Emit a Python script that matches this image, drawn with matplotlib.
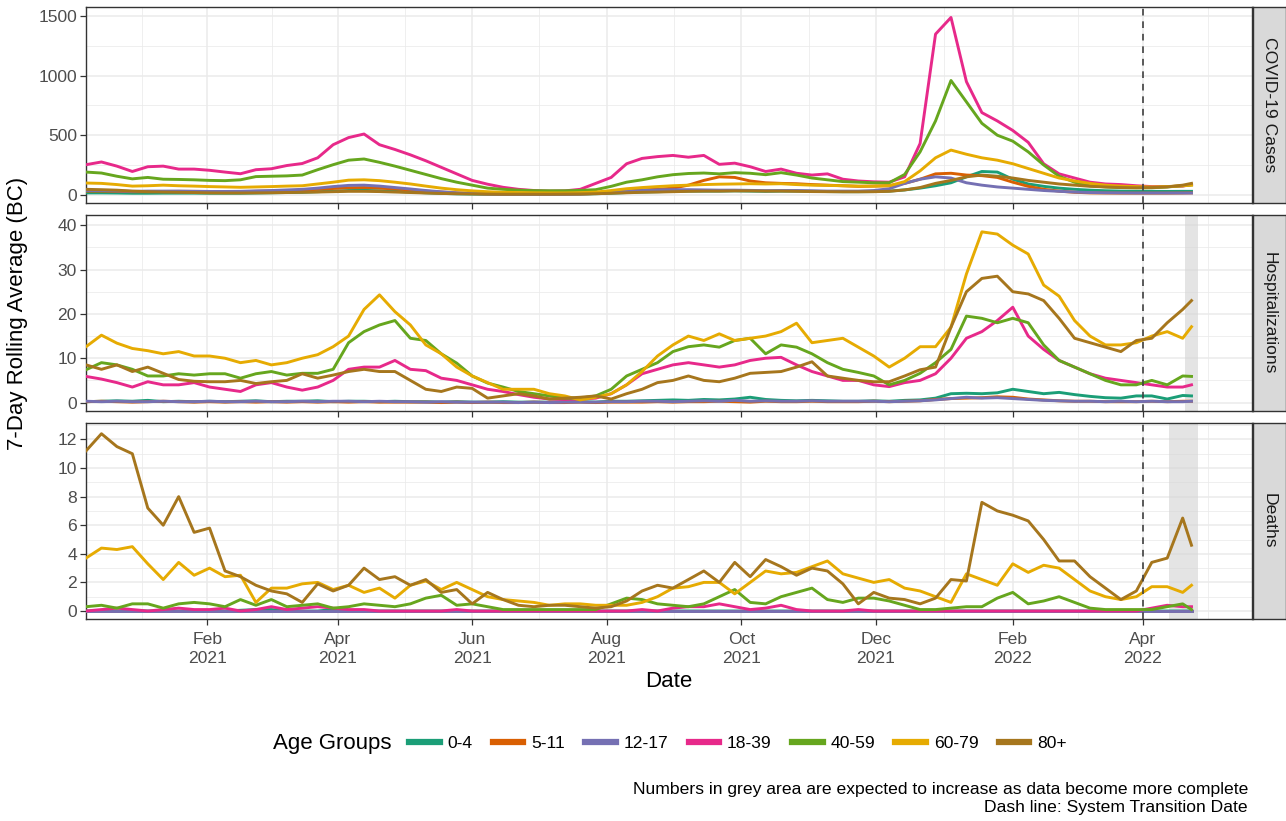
import pandas as pd
import matplotlib
matplotlib.use("Agg")
import matplotlib.pyplot as plt
import matplotlib.dates as mdates
from matplotlib.lines import Line2D

plt.rcParams["font.family"] = ["Liberation Sans", "DejaVu Sans"]

# weekly readings from Dec 8 2020, plus the last reported day
dates = list(pd.date_range("2020-12-08", periods=72, freq="7D")) + [pd.Timestamp("2022-04-23")]

age_groups = ["0-4", "5-11", "12-17", "18-39", "40-59", "60-79", "80+"]
colors = ["#1B9E77", "#D95F02", "#7570B3", "#E7298A", "#66A61E", "#E6AB02", "#A6761D"]
facets = ["COVID-19 Cases", "Hospitalizations", "Deaths"]

# ---- COVID-19 cases ----
cases_0_4 = [15, 15, 14, 12, 12, 13, 13, 13, 12, 12,
             12, 14, 16, 18, 20, 25, 30, 35, 36, 33,
             28, 22, 16, 11, 7, 5, 4, 3, 3, 3,
             3, 4, 5, 8, 12, 18, 22, 25, 28, 30,
             30, 30, 32, 30, 28, 30, 30, 28, 26, 25,
             25, 26, 30, 40, 55, 75, 100, 150, 195, 190,
             130, 90, 70, 55, 45, 38, 33, 30, 28, 28,
             27, 28, 28]
cases_5_11 = [30, 30, 28, 25, 25, 27, 28, 28, 27, 26,
              25, 28, 30, 33, 38, 45, 52, 58, 60, 55,
              48, 40, 30, 22, 15, 10, 7, 5, 4, 4,
              4, 5, 6, 10, 18, 30, 40, 45, 55, 80,
              120, 150, 145, 115, 100, 95, 92, 85, 80, 75,
              70, 72, 76, 95, 130, 175, 180, 165, 160, 145,
              105, 70, 45, 30, 20, 15, 14, 13, 13, 13,
              13, 14, 15]
cases_12_17 = [35, 35, 32, 28, 30, 30, 30, 28, 27, 27,
               28, 32, 35, 40, 45, 55, 68, 78, 80, 72,
               60, 48, 35, 24, 15, 10, 6, 4, 3, 3,
               3, 4, 6, 10, 18, 28, 35, 40, 42, 42,
               40, 38, 38, 36, 34, 35, 35, 33, 30, 30,
               30, 35, 50, 95, 130, 150, 140, 100, 80, 65,
               55, 45, 35, 28, 22, 18, 16, 15, 14, 14,
               14, 14, 14]
cases_18_39 = [252, 275, 240, 195, 235, 240, 215, 215, 205, 190,
               176, 210, 218, 245, 262, 310, 420, 480, 510, 420,
               380, 335, 285, 230, 175, 120, 88, 62, 45, 35,
               30, 32, 45, 95, 145, 260, 305, 320, 330, 315,
               330, 255, 265, 235, 195, 215, 180, 165, 175, 130,
               115, 108, 105, 150, 430, 1350, 1490, 950, 690, 620,
               540, 440, 260, 175, 140, 105, 90, 85, 75, 68,
               68, 72, 85]
cases_40_59 = [190, 182, 155, 133, 145, 130, 128, 125, 120, 118,
               125, 152, 155, 158, 165, 210, 252, 290, 300, 272,
               240, 205, 170, 135, 105, 80, 55, 45, 38, 34,
               33, 33, 36, 42, 70, 105, 125, 150, 168, 178,
               182, 175, 185, 180, 168, 185, 165, 140, 125, 110,
               105, 100, 100, 170, 360, 620, 960, 780, 600, 500,
               450, 360, 250, 155, 105, 75, 65, 60, 58, 58,
               65, 75, 82]
cases_60_79 = [98, 95, 85, 72, 75, 80, 75, 72, 68, 65,
               62, 65, 68, 72, 75, 90, 105, 122, 125, 118,
               105, 90, 72, 55, 42, 32, 25, 20, 18, 16,
               15, 15, 17, 22, 35, 50, 60, 68, 75, 80,
               85, 88, 90, 92, 90, 92, 85, 80, 78, 75,
               72, 72, 75, 110, 200, 310, 375, 340, 310, 290,
               260, 220, 180, 140, 115, 95, 80, 72, 68, 65,
               68, 75, 80]
cases_80p = [45, 42, 38, 30, 25, 22, 20, 18, 15, 14,
             14, 15, 16, 18, 20, 22, 25, 28, 28, 26,
             22, 18, 14, 10, 8, 6, 5, 4, 4, 4,
             4, 5, 6, 8, 12, 16, 20, 22, 25, 28,
             30, 30, 32, 32, 30, 30, 28, 26, 25, 24,
             24, 25, 28, 40, 60, 95, 120, 150, 165, 155,
             140, 120, 105, 90, 80, 70, 65, 60, 58, 60,
             65, 80, 95]

# ---- Hospitalizations ----
hosp_0_4 = [0.2, 0.3, 0.4, 0.3, 0.5, 0.2, 0.3, 0.2, 0.3, 0.2,
            0.3, 0.4, 0.2, 0.3, 0.3, 0.4, 0.2, 0.3, 0.3, 0.2,
            0.3, 0.2, 0.2, 0.1, 0.2, 0.1, 0.1, 0.2, 0.1, 0.1,
            0.1, 0.2, 0.2, 0.1, 0.3, 0.3, 0.4, 0.5, 0.6, 0.5,
            0.7, 0.6, 0.8, 1.2, 0.7, 0.5, 0.4, 0.5, 0.4, 0.3,
            0.3, 0.4, 0.3, 0.5, 0.6, 1.0, 2.0, 2.1, 2.0, 2.2,
            3.0, 2.5, 2.0, 2.3, 1.8, 1.4, 1.1, 1.0, 1.5, 1.5,
            0.8, 1.6, 1.5]
hosp_5_11 = [0.2, 0.3, 0.2, 0.1, 0.2, 0.3, 0.2, 0.1, 0.2, 0.1,
             0.2, 0.1, 0.2, 0.1, 0.2, 0.1, 0.2, 0.1, 0.2, 0.1,
             0.1, 0.1, 0.1, 0.0, 0.1, 0.0, 0.1, 0.0, 0.0, 0.1,
             0.0, 0.0, 0.1, 0.0, 0.1, 0.1, 0.1, 0.2, 0.1, 0.2,
             0.2, 0.3, 0.2, 0.1, 0.3, 0.2, 0.2, 0.3, 0.2, 0.2,
             0.2, 0.3, 0.2, 0.3, 0.4, 0.7, 0.9, 1.0, 1.1, 1.3,
             1.2, 0.8, 0.6, 0.4, 0.3, 0.3, 0.2, 0.2, 0.2, 0.3,
             0.2, 0.3, 0.3]
hosp_12_17 = [0.3, 0.2, 0.3, 0.2, 0.2, 0.3, 0.2, 0.2, 0.3, 0.2,
              0.2, 0.3, 0.2, 0.2, 0.3, 0.2, 0.3, 0.3, 0.2, 0.3,
              0.2, 0.2, 0.1, 0.2, 0.1, 0.1, 0.1, 0.1, 0.0, 0.1,
              0.0, 0.1, 0.1, 0.1, 0.2, 0.2, 0.3, 0.3, 0.2, 0.3,
              0.4, 0.3, 0.5, 0.3, 0.4, 0.3, 0.3, 0.4, 0.3, 0.3,
              0.3, 0.3, 0.2, 0.3, 0.4, 0.6, 0.9, 1.2, 1.0, 1.1,
              0.9, 0.7, 0.5, 0.4, 0.3, 0.3, 0.2, 0.3, 0.2, 0.3,
              0.2, 0.2, 0.3]
hosp_18_39 = [5.9, 5.3, 4.5, 3.5, 4.7, 4.0, 4.0, 4.5, 3.5, 3.0,
              2.5, 4.0, 4.5, 3.5, 2.8, 3.5, 5.0, 7.5, 8.0, 8.0,
              9.5, 7.5, 7.2, 5.5, 5.0, 4.0, 3.0, 2.5, 1.8, 1.2,
              0.8, 0.7, 0.8, 1.0, 2.0, 4.0, 6.5, 7.5, 8.5, 9.0,
              8.5, 8.0, 8.5, 9.5, 10.0, 10.2, 8.5, 7.0, 6.0, 5.0,
              5.0, 4.0, 3.6, 4.5, 5.0, 6.5, 10.0, 14.5, 16.0, 18.5,
              21.5, 15.0, 12.0, 9.5, 8.0, 6.5, 5.5, 5.0, 4.5, 4.0,
              3.5, 3.5, 4.0]
hosp_40_59 = [7.4, 9.0, 8.5, 7.5, 6.0, 6.0, 6.5, 6.2, 6.5, 6.5,
              5.5, 6.5, 7.0, 6.2, 6.6, 6.6, 7.5, 13.5, 16.0, 17.5,
              18.5, 14.5, 14.0, 11.0, 8.9, 6.0, 4.4, 3.5, 2.5, 2.0,
              1.5, 1.0, 1.0, 1.5, 3.0, 6.0, 7.5, 9.0, 11.5, 12.6,
              13.0, 12.5, 14.0, 14.5, 11.0, 13.0, 12.5, 11.0, 9.0, 7.5,
              6.8, 6.0, 4.0, 5.0, 6.6, 9.0, 12.0, 19.5, 19.0, 18.0,
              19.0, 18.0, 13.0, 9.5, 8.0, 6.5, 5.0, 4.0, 4.0, 5.0,
              4.0, 6.0, 5.9]
hosp_60_79 = [12.6, 15.2, 13.4, 12.2, 11.7, 11.0, 11.5, 10.5, 10.5, 10.0,
              9.0, 9.5, 8.5, 9.0, 10.0, 10.8, 12.6, 15.0, 21.0, 24.3,
              20.5, 17.5, 13.0, 11.0, 8.0, 6.0, 4.5, 3.0, 3.0, 3.0,
              2.0, 1.5, 0.6, 1.2, 2.0, 4.0, 7.0, 10.5, 13.0, 15.0,
              14.0, 15.5, 14.0, 14.5, 15.0, 16.0, 17.9, 13.5, 14.0, 14.5,
              12.5, 10.5, 8.0, 10.0, 12.6, 12.6, 17.0, 29.0, 38.5, 38.0,
              35.5, 33.5, 26.5, 24.0, 18.5, 15.0, 13.0, 13.0, 13.5, 15.0,
              16.0, 14.5, 17.1]
hosp_80p = [8.5, 7.5, 8.5, 7.0, 8.0, 6.6, 5.2, 4.8, 4.7, 4.7,
            5.0, 4.3, 4.7, 5.0, 6.5, 5.5, 6.2, 7.0, 7.5, 7.0,
            7.0, 5.0, 3.0, 2.5, 3.5, 3.2, 1.0, 1.5, 2.0, 1.5,
            0.8, 1.0, 1.2, 1.5, 0.8, 2.0, 3.0, 4.5, 5.0, 6.0,
            5.0, 4.7, 5.5, 6.6, 6.8, 7.0, 8.0, 9.2, 6.0, 5.5,
            5.0, 4.7, 4.7, 6.0, 7.4, 8.0, 17.0, 25.0, 28.0, 28.5,
            25.0, 24.5, 23.0, 19.0, 14.5, 13.5, 12.5, 11.5, 14.0, 14.5,
            18.0, 21.0, 23.0]

# ---- Deaths ----
deaths_0_4 = [0, 0, 0, 0, 0, 0, 0, 0, 0, 0,
              0.05, 0.1, 0.1, 0, 0, 0, 0.1, 0, 0, 0,
              0, 0, 0, 0, 0, 0, 0, 0, 0, 0,
              0, 0, 0, 0, 0, 0, 0, 0, 0, 0,
              0, 0, 0, 0, 0, 0, 0, 0, 0, 0,
              0, 0, 0, 0, 0, 0, 0, 0, 0, 0,
              0, 0, 0, 0, 0, 0, 0, 0, 0, 0,
              0, 0, 0]
deaths_5_11 = [0] * 73
deaths_12_17 = [0] * 73
deaths_18_39 = [0, 0.1, 0.2, 0.1, 0, 0.1, 0.2, 0.1, 0.1, 0.2,
                0, 0.1, 0.3, 0.1, 0.2, 0.3, 0.2, 0.1, 0.1, 0,
                0, 0, 0, 0, 0.1, 0, 0, 0, 0, 0,
                0, 0, 0, 0, 0, 0, 0.1, 0, 0.2, 0.3,
                0.3, 0.5, 0.3, 0.1, 0.2, 0.4, 0.1, 0, 0, 0,
                0.1, 0, 0, 0, 0, 0, 0, 0, 0, 0,
                0, 0, 0, 0, 0, 0, 0, 0, 0, 0.2,
                0.4, 0.3, 0.3]
deaths_40_59 = [0.3, 0.4, 0.2, 0.5, 0.5, 0.2, 0.5, 0.6, 0.5, 0.3,
                0.8, 0.4, 0.8, 0.3, 0.4, 0.5, 0.2, 0.3, 0.5, 0.4,
                0.3, 0.5, 0.9, 1.1, 0.4, 0.5, 0.3, 0.1, 0.1, 0.1,
                0.1, 0.1, 0.1, 0.1, 0.5, 0.9, 0.8, 0.5, 0.4, 0.3,
                0.5, 1.0, 1.5, 0.6, 0.5, 1.0, 1.3, 1.6, 0.8, 0.6,
                0.9, 0.9, 0.7, 0.4, 0.1, 0.1, 0.2, 0.3, 0.3, 0.9,
                1.3, 0.5, 0.7, 1.0, 0.6, 0.2, 0.1, 0.1, 0.1, 0.1,
                0.3, 0.5, 0.1]
deaths_60_79 = [3.7, 4.4, 4.3, 4.5, 3.3, 2.2, 3.4, 2.5, 3.0, 2.4,
                2.5, 0.6, 1.6, 1.6, 1.9, 2.0, 1.5, 1.8, 1.3, 1.6,
                0.9, 1.8, 2.1, 1.5, 2.0, 1.5, 1.0, 0.8, 0.7, 0.6,
                0.4, 0.5, 0.5, 0.4, 0.4, 0.4, 0.6, 1.0, 1.6, 1.7,
                2.0, 2.0, 1.2, 2.0, 2.8, 2.6, 2.7, 3.1, 3.5, 2.6,
                2.3, 2.0, 2.2, 1.6, 1.4, 1.0, 0.6, 2.6, 2.2, 1.8,
                3.3, 2.7, 3.2, 3.0, 2.2, 1.4, 1.0, 0.8, 1.0, 1.7,
                1.7, 1.3, 1.8]
deaths_80p = [11.2, 12.4, 11.5, 11.0, 7.2, 6.0, 8.0, 5.5, 5.8, 2.8,
              2.4, 1.8, 1.4, 1.2, 0.6, 1.9, 1.4, 1.8, 3.0, 2.2,
              2.4, 1.8, 2.2, 1.3, 1.5, 0.5, 1.3, 0.8, 0.4, 0.3,
              0.4, 0.4, 0.3, 0.2, 0.3, 0.7, 1.4, 1.8, 1.6, 2.2,
              2.8, 2.0, 3.4, 2.4, 3.6, 3.1, 2.5, 3.0, 2.8, 1.9,
              0.5, 1.3, 0.9, 0.8, 0.5, 0.9, 2.2, 2.1, 7.6, 7.0,
              6.7, 6.3, 5.0, 3.5, 3.5, 2.4, 1.6, 0.8, 1.4, 3.4,
              3.7, 6.5, 4.6]

series = {
    "COVID-19 Cases": [cases_0_4, cases_5_11, cases_12_17, cases_18_39, cases_40_59, cases_60_79, cases_80p],
    "Hospitalizations": [hosp_0_4, hosp_5_11, hosp_12_17, hosp_18_39, hosp_40_59, hosp_60_79, hosp_80p],
    "Deaths": [deaths_0_4, deaths_5_11, deaths_12_17, deaths_18_39, deaths_40_59, deaths_60_79, deaths_80p],
}
y_limits = {"COVID-19 Cases": (-70, 1578), "Hospitalizations": (-1.9, 42.3), "Deaths": (-0.56, 13.15)}
y_ticks = {"COVID-19 Cases": [0, 500, 1000, 1500], "Hospitalizations": [0, 10, 20, 30, 40],
           "Deaths": [0, 2, 4, 6, 8, 10, 12]}
grey_start = {"Hospitalizations": "2022-04-20", "Deaths": "2022-04-13"}
grey_end = "2022-04-26"
transition_date = pd.Timestamp("2022-04-01")
x_range = (pd.Timestamp("2020-12-08"), pd.Timestamp("2022-05-20 10:00"))
major_dates = pd.to_datetime(["2021-02-01", "2021-04-01", "2021-06-01", "2021-08-01", "2021-10-01",
                              "2021-12-01", "2022-02-01", "2022-04-01"])

W, H = 1286, 821
fig = plt.figure(figsize=(W / 100, H / 100), dpi=100)


def box(l, t, r, b):
    return [l / W, 1 - b / H, (r - l) / W, (b - t) / H]


panel_rows = [(7, 203), (215, 411), (423, 619)]

major_num = mdates.date2num(major_dates)
step = major_num[1] - major_num[0]
minor_num = [major_num[0] - step / 2] + [(a + b) / 2 for a, b in zip(major_num[:-1], major_num[1:])] + \
            [major_num[-1] + (major_num[-1] - major_num[-2]) / 2]

for i, (name, (top, bottom)) in enumerate(zip(facets, panel_rows)):
    ax = fig.add_axes(box(86, top, 1252, bottom))
    if name in grey_start:
        ax.axvspan(pd.Timestamp(grey_start[name]), pd.Timestamp(grey_end), color="#d3d3d3", alpha=0.6,
                   lw=0, zorder=1)
    for vals, col in zip(series[name], colors):
        ax.plot(dates, vals, color=col, lw=2.1, zorder=3, solid_joinstyle="round")
    ax.axvline(transition_date, color="#404040", lw=1.2, ls=(0, (4, 3.5)), zorder=4)

    ax.set_xticks(major_dates)
    ax.set_xticks(minor_num, minor=True)
    yt = y_ticks[name]
    ax.set_yticks(yt)
    ax.set_yticks([t + (yt[1] - yt[0]) / 2 for t in yt], minor=True)
    # limits after the ticks, so the minor ticks do not widen the view
    ax.set_xlim(*x_range)
    ax.set_ylim(*y_limits[name])
    ax.grid(which="major", color="#EBEBEB", lw=1.1, zorder=0)
    ax.grid(which="minor", color="#EBEBEB", lw=0.55, zorder=0)
    ax.set_axisbelow(True)
    ax.tick_params(which="major", colors="#333333", labelcolor="#4D4D4D", labelsize=12.6, length=4,
                   width=0.9, pad=2.5)
    ax.tick_params(which="minor", length=0)
    if i == 2:
        ax.set_xticklabels([d.strftime("%b\n%Y") for d in major_dates])
        ax.tick_params(axis="x", which="major", pad=5)
        for lab in ax.get_xticklabels():
            lab.set_linespacing(1.35)
    else:
        ax.set_xticklabels([])
    for sp in ax.spines.values():
        sp.set_color("#333333")
        sp.set_linewidth(1.0)

    strip = fig.add_axes(box(1253, top, 1286, bottom))
    strip.set_facecolor("#D9D9D9")
    strip.set_xticks([])
    strip.set_yticks([])
    for sp in strip.spines.values():
        sp.set_color("#333333")
        sp.set_linewidth(1.0)
    strip.text(0.5, 0.5, name, rotation=270, ha="center", va="center", fontsize=12.6, color="#1A1A1A",
               transform=strip.transAxes)

fig.text(669 / W, 1 - 681 / H, "Date", ha="center", va="center", fontsize=16)
fig.text(18 / W, 1 - 313 / H, "7-Day Rolling Average (BC)", ha="center", va="center", rotation=90,
         fontsize=16)

handles = [Line2D([0], [0], color=c, lw=4.5) for c in colors]
fig.text(273 / W, 1 - 743 / H, "Age Groups", ha="left", va="center", fontsize=16)
fig.legend(handles, age_groups, ncol=7, loc="center left", bbox_to_anchor=(409 / W, 1 - 743 / H),
           frameon=False, fontsize=12.6, handlelength=1.75, handletextpad=0.45, columnspacing=1.15,
           borderaxespad=0, borderpad=0)

fig.text(1248 / W, 1 - 789 / H, "Numbers in grey area are expected to increase as data become more complete",
         ha="right", va="center", fontsize=12.6)
fig.text(1248 / W, 1 - 807 / H, "Dash line: System Transition Date", ha="right", va="center", fontsize=12.6)

fig.savefig("out.png", dpi=100)
